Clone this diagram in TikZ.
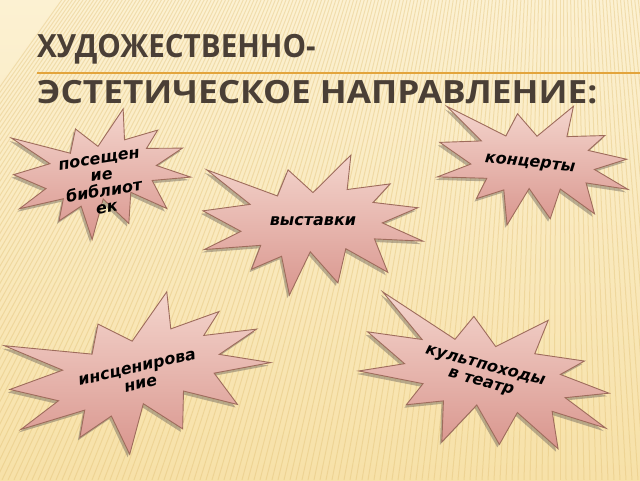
\documentclass[tikz,border=0pt]{standalone}
\usepackage{fontspec}
\newfontfamily\titlefont{Open Sans}
\newfontfamily\burstfont{DejaVu Sans}[BoldFont={DejaVu Sans Bold},ItalicFont={DejaVu Sans Oblique},BoldItalicFont={DejaVu Sans Bold Oblique}]
\usetikzlibrary{calc}
\definecolor{bgtop}{HTML}{FCF1D2}
\definecolor{bgbot}{HTML}{F7E1A8}
\definecolor{stripec}{HTML}{E0BE72}
\definecolor{titlec}{HTML}{4A3F36}
\definecolor{rulec}{HTML}{E3A43C}
\definecolor{bursttop}{HTML}{F4D5CD}
\definecolor{burstbot}{HTML}{D9968E}
\definecolor{burstedge}{HTML}{9E6C5C}
\definecolor{shadowc}{HTML}{7A7064}
\newcommand\sealpath{(0,-0.2315) -- (0.1723,-0.5) -- (0.1553,-0.2535) -- (0.3509,-0.2937) -- (0.2732,-0.1613) -- (0.4767,-0.1233) -- (0.3151,-0.0150) -- (0.5,0.1153) -- (0.2795,0.0992) -- (0.3400,0.3377) -- (0.1491,0.1693) -- (0.1133,0.4138) -- (-0.0124,0.1914) -- (-0.1072,0.5) -- (-0.1428,0.2235) -- (-0.2795,0.3156) -- (-0.2376,0.1452) -- (-0.4938,0.1753) -- (-0.3277,0.0451) -- (-0.5,-0.1012) -- (-0.2858,-0.1474) -- (-0.4829,-0.3938) -- (-0.1615,-0.2074) -- (-0.1133,-0.3938) -- cycle}
\newcommand\burst[5]{%
  \fill[burstshadow, shift={(#1-2,#2+3)}, rotate={-1*(#5)}, xscale=#3, yscale=#4] \sealpath;
  \draw[burstbody, shift={(#1,#2)}, rotate={-1*(#5)}, xscale=#3, yscale=#4] \sealpath;
}
\tikzset{
  burstshadow/.style={shadowc, opacity=.5},
  burstbody/.style={draw=burstedge, line width=0.9pt, line join=miter, top color=bursttop, bottom color=burstbot},
  bursttext/.style={font=\burstfont\bfseries\itshape\fontsize{16}{16.5}\selectfont, align=center, inner sep=0pt, text=black},
  titletext/.style={font=\titlefont\bfseries\fontsize{32}{38}\selectfont, text=titlec, inner sep=0pt, anchor=base west},
  stripe/.style={stripec, opacity=.38, line width=1pt},
  titlerule/.style={rulec, line width=1.6pt}
}
\begin{document}
\begin{tikzpicture}[x=1pt,y=-1pt]
\useasboundingbox (0,0) rectangle (640,480);
\shade[top color=bgtop, bottom color=bgbot] (0,0) rectangle (640,480);
\begin{scope}
\clip (0,0) rectangle (640,480);
\foreach \i in {-140,...,120} \draw[stripe] (560,-700) -- (560+\i*6, 480);
\end{scope}
\node[titletext, xscale=0.925] (t1) at (37,57) {ХУДОЖЕСТВЕННО-};
\node[titletext, xscale=1.10] (t2) at (37,103) {ЭСТЕТИЧЕСКОЕ НАПРАВЛЕНИЕ:};
\coordinate (r1) at (37,73);
\coordinate (r2) at (640,73);
\draw[titlerule] (r1) -- (r2);
\burst{313}{225}{220}{140}{0}
\burst{534}{165}{192}{125}{6}
\burst{102}{175}{175}{125}{-8}
\burst{140}{375}{260}{150}{-13}
\burst{487}{379}{255}{145}{15}
\node[bursttext] (vystavki) at (313,221) {выставки};
\node[bursttext, rotate=-6] (koncerty) at (530,164) {концерты};
\node[bursttext, rotate=9] (bibl) at (103,184) {посещен\\ие\\библиот\\ек};
\node[bursttext, rotate=13] (insc) at (139,376) {инсценирова\\ние};
\node[bursttext, rotate=-15] (kult) at (483,375) {культпоходы\\в театр};
\end{tikzpicture}
\end{document}
